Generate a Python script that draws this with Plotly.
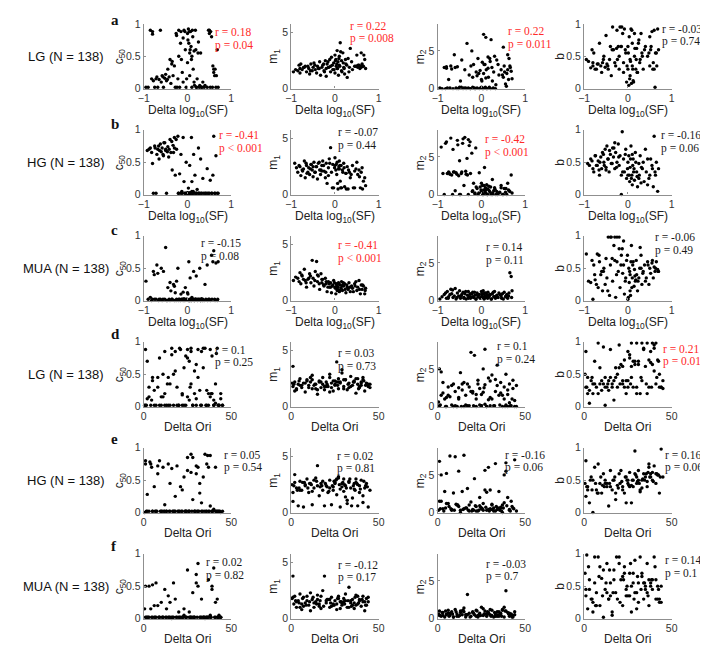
import plotly.graph_objects as go

# ---------------- data ----------------
# Row a: LG, Delta log10(SF)
x_a = [-0.95,-0.85,-0.82,-0.80,-0.80,-0.78,-0.75,-0.70,-0.65,-0.62,-0.60,-0.58,-0.55,-0.52,-0.50,-0.48,-0.45,-0.42,-0.40,-0.38,
       -0.35,-0.33,-0.30,-0.28,-0.25,-0.22,-0.20,-0.20,-0.18,-0.15,-0.12,-0.10,-0.10,-0.08,-0.05,-0.03,0.00,0.00,0.02,0.03,
       0.05,0.05,0.07,0.08,0.10,0.10,0.12,0.15,0.15,0.18,0.20,0.22,0.25,0.28,0.30,0.32,0.35,0.40,0.45,0.50,
       0.50,0.52,0.55,0.58,0.60,0.60,0.62,0.65,0.68,0.70,
       -0.9,-0.72,-0.68,-0.56,-0.46,-0.36,-0.26,-0.24,-0.16,-0.14,-0.06,-0.02,0.01,0.04,0.06,0.09,0.11,0.13,0.16,0.19,
       0.21,0.24,0.27,0.33,0.38,0.48,0.53,0.57,0.63,0.66]
c50_a = [0.02,0.9,0.15,0.88,0.84,0.12,0.02,0.18,0.14,0.9,0.1,0.2,0.02,0.16,0.22,0.12,0.3,0.18,0.45,0.08,
         0.42,0.2,0.35,0.02,0.82,0.15,0.9,0.5,0.02,0.88,0.25,0.78,0.1,0.9,0.6,0.02,0.85,0.4,0.92,0.7,
         0.55,0.2,0.88,0.65,0.5,0.02,0.8,0.58,0.1,0.9,0.02,0.15,0.72,0.05,0.55,0.02,0.1,0.05,0.02,0.9,
         0.85,0.02,0.8,0.35,0.3,0.25,0.2,0.02,0.6,0.02,
         0.02,0.15,0.02,0.18,0.14,0.38,0.85,0.02,0.7,0.45,0.88,0.15,0.75,0.88,0.6,0.45,0.9,0.3,0.05,0.6,
         0.02,0.55,0.02,0.02,0.02,0.9,0.88,0.02,0.3,0.2]
m1_a = [1.5,1.6,2.1,1.8,1.4,2.2,1.7,1.9,1.5,2.0,1.8,1.3,2.2,1.6,1.9,2.3,1.7,1.4,2.0,1.8,
        2.4,1.2,1.9,2.1,1.6,2.5,1.8,1.1,2.2,1.9,2.6,1.5,2.0,2.8,1.7,2.3,3.0,1.4,2.6,2.0,
        3.4,1.8,2.4,1.2,2.9,2.1,4.1,1.6,2.5,3.2,1.9,1.3,2.2,1.0,2.7,1.5,3.6,1.7,2.0,2.0,
        3.0,1.9,2.1,2.0,3.2,1.9,2.2,2.0,2.6,1.8,
        1.7,1.9,2.0,1.6,2.1,1.8,2.2,1.5,2.4,1.9,2.1,1.7,2.5,2.2,1.8,2.7,2.0,3.3,1.5,2.3,
        1.8,2.6,2.1,1.9,2.4,2.0,2.1,1.8,2.0,3.0]
m2_a = [0.1,2.8,0.0,2.9,2.7,0.1,1.2,3.0,0.0,4.5,2.8,0.1,2.9,0.0,0.2,1.0,3.8,0.0,0.1,2.5,
        0.0,6.0,0.1,1.8,0.0,5.0,0.2,1.5,3.2,0.0,2.2,0.1,1.7,4.0,0.0,2.4,0.2,1.2,3.5,0.0,
        7.2,2.0,0.1,3.2,6.8,1.4,0.0,2.7,4.2,0.2,3.6,6.5,1.0,2.2,4.3,0.0,3.8,1.8,2.5,5.5,
        1.5,3.0,0.6,2.0,4.5,2.5,1.2,3.0,2.3,1.3,
        0.0,0.1,2.6,0.0,0.2,0.1,0.0,3.0,0.1,0.0,2.0,0.1,1.0,0.0,3.2,0.2,2.5,0.0,1.5,4.0,
        0.0,2.8,0.1,0.5,3.2,1.8,2.2,0.3,4.0,2.8]
b_a = [0.45,0.32,0.6,0.35,0.4,0.55,0.3,0.38,0.7,0.35,0.25,0.4,0.5,0.33,0.82,0.38,0.3,0.45,0.65,0.2,
       0.95,0.6,0.4,0.35,0.9,0.65,0.5,0.3,0.95,0.65,0.85,0.25,0.4,0.92,0.55,0.1,0.3,0.65,0.05,0.8,
       0.2,0.45,0.92,0.08,0.35,0.7,0.12,0.5,0.85,0.3,0.62,0.25,0.75,0.45,0.85,0.55,0.3,0.65,0.5,0.8,
       0.35,0.6,0.88,0.4,0.9,0.3,0.02,0.55,0.92,0.6,
       0.42,0.3,0.38,0.45,0.35,0.6,0.62,0.45,0.65,0.95,0.6,0.35,0.55,0.15,0.42,0.9,0.3,0.1,0.62,0.45,
       0.25,0.7,0.4,0.5,0.6,0.55,0.65,0.3,0.55,0.35]

# Row b: HG, Delta log10(SF)
x_b = [-0.92,-0.85,-0.8,-0.78,-0.75,-0.7,-0.68,-0.65,-0.62,-0.6,-0.58,-0.55,-0.52,-0.5,-0.48,-0.45,-0.43,-0.4,-0.38,-0.35,
       -0.33,-0.3,-0.28,-0.25,-0.22,-0.2,-0.18,-0.15,-0.13,-0.1,-0.08,-0.05,-0.03,0.0,0.02,0.04,0.05,0.07,0.09,0.1,
       0.12,0.14,0.15,0.17,0.2,0.22,0.25,0.28,0.3,0.33,0.35,0.4,0.45,0.5,0.52,0.55,0.58,0.6,0.62,0.65,
       0.68,0.7,-0.72,-0.5,-0.3,-0.15,0.0,0.1,0.25,0.45,
       -0.88,-0.82,-0.74,-0.66,-0.64,-0.56,-0.54,-0.46,-0.42,-0.36,-0.32,-0.26,-0.21,-0.12,-0.06,-0.01,0.03,0.06,0.08,0.11,
       0.13,0.18,0.21,0.26,0.31,0.37,0.42,0.48,0.56,0.63]
c50_b = [0.68,0.72,0.48,0.02,0.75,0.62,0.7,0.55,0.78,0.66,0.72,0.6,0.8,0.68,0.02,0.74,0.58,0.85,0.65,0.38,
         0.76,0.88,0.3,0.7,0.9,0.02,0.32,0.62,0.05,0.88,0.2,0.02,0.5,0.03,0.1,0.02,0.45,0.02,0.88,0.05,
         0.02,0.62,0.02,0.3,0.02,0.08,0.72,0.02,0.55,0.02,0.25,0.02,0.4,0.02,0.22,0.02,0.3,0.9,0.02,0.6,
         0.02,0.02,0.02,0.7,0.72,0.02,0.02,0.2,0.02,0.02,
         0.7,0.65,0.72,0.75,0.68,0.62,0.8,0.66,0.7,0.82,0.65,0.85,0.02,0.02,0.02,0.02,0.02,0.03,0.02,0.02,
         0.05,0.02,0.02,0.02,0.02,0.02,0.02,0.02,0.02,0.02]
m1_b = [2.8,2.0,2.5,1.7,2.2,3.0,1.5,2.6,2.0,2.4,1.8,2.7,2.2,1.6,2.9,2.0,2.5,1.4,2.8,2.2,
        1.8,2.6,3.0,2.1,1.5,2.8,1.0,2.4,3.2,4.2,2.0,2.7,0.6,3.3,2.2,1.8,2.9,0.5,2.5,3.0,
        1.2,2.6,0.6,2.2,2.8,0.7,1.9,2.5,0.5,2.0,1.5,2.6,0.6,2.9,1.8,2.2,0.6,2.0,2.4,1.2,
        1.5,0.8,2.3,2.5,2.1,1.7,2.6,2.3,1.9,2.1,
        2.4,2.6,2.1,2.8,1.9,2.3,2.7,2.0,2.5,2.9,2.2,2.6,2.0,2.8,0.6,2.4,2.7,1.0,2.3,2.6,
        0.6,2.0,2.4,0.5,2.2,1.8,0.6,2.3,1.6,0.5]
m2_b = [6.3,0.0,7.0,2.8,3.0,7.5,2.6,6.0,3.0,0.5,2.9,7.2,2.5,4.5,0.0,3.0,6.8,1.2,7.6,2.7,
        4.8,0.0,6.5,2.8,5.5,0.5,1.5,0.2,6.2,0.8,0.0,2.9,1.0,0.3,1.2,0.0,0.6,3.6,0.9,0.2,
        1.3,0.0,0.7,1.1,0.3,0.0,2.0,0.5,0.9,0.0,0.4,0.2,1.2,0.0,0.8,0.3,0.0,1.5,0.6,0.4,
        2.6,0.2,2.7,0.0,7.3,0.1,1.5,0.6,0.0,0.9,
        2.8,6.8,2.9,0.0,3.0,2.7,6.6,2.8,7.4,3.1,2.6,7.0,0.4,1.0,0.2,0.6,0.0,1.2,0.3,0.8,
        0.0,0.5,1.0,0.2,0.7,0.0,0.3,0.0,0.8,0.5]
b_b = [0.48,0.55,0.4,0.35,0.6,0.45,0.52,0.3,0.58,0.4,0.65,0.5,0.7,0.42,0.75,0.55,0.35,0.62,0.48,0.72,
       0.58,0.4,0.65,0.5,0.78,0.45,0.6,0.3,0.97,0.55,0.35,0.7,0.25,0.5,0.6,0.2,0.42,0.75,0.3,0.15,
       0.55,0.4,0.22,0.65,0.35,0.12,0.48,0.6,0.18,0.4,0.5,0.7,0.15,0.3,0.55,0.45,0.12,0.9,0.35,0.5,
       0.05,0.4,0.45,0.38,0.8,0.0,0.3,0.62,0.25,0.55,
       0.45,0.52,0.6,0.38,0.5,0.62,0.45,0.55,0.68,0.48,0.72,0.42,0.58,0.35,0.62,0.4,0.3,0.55,0.25,0.45,
       0.35,0.5,0.28,0.3,0.42,0.2,0.35,0.25,0.4,0.3]

# Row c: MUA, Delta log10(SF)
x_c = [-0.95,-0.85,-0.8,-0.78,-0.75,-0.7,-0.68,-0.65,-0.6,-0.58,-0.55,-0.52,-0.5,-0.48,-0.45,-0.42,-0.4,-0.38,-0.35,-0.32,
       -0.3,-0.28,-0.25,-0.22,-0.2,-0.18,-0.15,-0.12,-0.1,-0.08,-0.05,-0.03,0.0,0.02,0.03,0.05,0.06,0.08,0.1,0.12,
       0.14,0.15,0.17,0.2,0.22,0.25,0.28,0.3,0.32,0.35,0.38,0.4,0.45,0.5,0.52,0.55,0.58,0.6,0.62,0.65,
       0.68,0.7,-0.62,-0.4,-0.25,-0.1,0.05,0.18,0.3,0.48,
       -0.9,-0.82,-0.76,-0.72,-0.66,-0.56,-0.46,-0.36,-0.3,-0.26,-0.2,-0.16,-0.13,-0.06,-0.01,0.01,0.04,0.07,0.09,0.11,
       0.16,0.19,0.23,0.27,0.34,0.42,0.46,0.56,0.63,0.69]
c50_c = [0.3,0.05,0.02,0.45,0.02,0.55,0.42,0.02,0.5,0.0,0.45,0.02,0.82,0.0,0.2,0.02,0.28,0.15,0.02,0.25,
         0.0,0.12,0.02,0.5,0.0,0.02,0.1,0.02,0.0,0.03,0.2,0.02,0.12,0.0,0.6,0.02,0.35,0.0,0.05,0.02,
         0.45,0.0,0.02,0.38,0.02,0.02,0.5,0.0,0.03,0.02,0.0,0.25,0.55,0.02,0.0,0.7,0.6,0.77,0.02,0.58,
         0.0,0.6,0.02,0.0,0.3,0.13,0.0,0.02,0.0,0.02,
         0.02,0.0,0.4,0.02,0.0,0.02,0.0,0.02,0.22,0.0,0.02,0.0,0.02,0.0,0.02,0.1,0.0,0.02,0.0,0.02,
         0.0,0.02,0.0,0.02,0.0,0.02,0.0,0.02,0.0,0.02]
m1_c = [1.8,2.0,2.5,1.5,2.2,2.8,1.8,1.2,2.0,2.4,1.6,3.6,2.0,1.3,2.6,3.5,1.7,2.2,1.0,2.4,
        1.6,1.9,1.3,2.0,1.5,0.8,1.7,1.2,1.6,0.7,1.4,1.8,1.2,0.6,1.5,1.3,1.0,1.6,0.8,1.4,
        1.1,1.7,0.9,1.3,1.5,0.7,1.2,1.0,1.6,0.8,1.3,1.1,1.5,0.9,1.2,1.8,0.6,1.4,1.0,1.3,
        0.6,1.1,1.9,2.3,1.4,1.2,0.9,1.4,1.1,1.7,
        2.1,1.7,2.3,1.9,1.6,2.2,1.8,1.5,1.9,1.4,1.7,1.2,1.5,1.3,1.6,1.1,1.4,1.2,1.5,0.9,
        1.3,1.6,1.0,1.4,1.2,0.8,1.3,1.0,1.4,0.9]
m2_c = [0.2,0.8,0.3,1.2,0.5,1.5,0.9,0.4,1.6,0.2,1.0,0.6,1.3,0.3,0.8,1.1,0.4,0.9,0.2,0.7,
        1.2,0.5,0.3,0.9,1.1,0.4,0.7,0.2,1.0,0.5,0.8,0.3,1.2,0.6,0.4,0.9,0.2,1.0,0.5,0.7,
        0.3,1.1,0.6,0.8,0.2,0.9,0.5,1.2,0.3,0.7,0.4,1.0,0.6,0.2,1.1,0.5,0.8,0.3,0.6,3.7,
        3.2,1.3,0.6,0.3,0.5,0.8,0.4,0.7,0.5,0.9,
        0.5,1.0,0.3,0.8,1.4,0.4,0.6,1.2,0.3,0.9,0.5,1.1,0.2,0.7,0.4,0.9,1.3,0.3,0.6,1.0,
        0.4,0.7,0.2,1.1,0.5,0.8,0.3,0.6,1.0,0.4]
b_c = [0.72,0.28,0.02,0.55,0.32,0.72,0.2,0.6,0.45,0.15,0.5,0.25,0.65,0.35,0.98,0.08,0.55,0.98,0.3,0.85,
       0.62,0.05,0.98,0.45,0.8,0.2,0.7,0.42,0.55,0.1,0.35,0.62,0.02,0.5,0.28,0.4,0.08,0.85,0.35,0.6,
       0.22,0.48,0.3,0.4,0.15,0.35,0.82,0.5,0.25,0.45,0.55,0.3,0.6,0.5,0.42,0.58,0.35,0.52,0.45,0.6,
       0.48,0.45,0.4,0.98,0.6,0.92,0.15,0.32,0.7,0.25,
       0.3,0.62,0.4,0.25,0.7,0.45,0.15,0.65,0.98,0.4,0.98,0.55,0.8,0.3,0.7,0.05,0.45,0.6,0.2,0.55,
       0.38,0.62,0.3,0.5,0.42,0.35,0.55,0.62,0.5,0.45]

# Row d: LG, Delta Ori
x_d = [1,1,2,3,4,5,6,7,8,9,10,11,12,12,13,14,15,16,17,18,
       18,19,20,21,22,23,24,24,25,26,27,27,28,29,30,31,32,33,34,35,
       36,37,38,38,39,40,40,41,42,43,44,45,2,5,9,14,17,20,25,29,
       33,36,41,0.5,11,22,30,39,43,26,
       1.5,3,4.5,6,8,10,12,13.5,15,16,19,20.5,22,23,25,26.5,28,30,31,32.5,
       34,35.5,37,38.5,40,41.5,42.5,44,45,27]
c50_d = [0.88,0.02,0.7,0.15,0.02,0.45,0.25,0.02,0.3,0.75,0.02,0.5,0.2,0.85,0.02,0.45,0.35,0.9,0.02,0.55,
         0.85,0.3,0.02,0.88,0.2,0.6,0.78,0.02,0.15,0.7,0.9,0.35,0.02,0.55,0.12,0.88,0.25,0.02,0.6,0.9,
         0.02,0.2,0.88,0.15,0.78,0.02,0.1,0.35,0.9,0.02,0.2,0.02,0.12,0.4,0.02,0.02,0.5,0.02,0.75,0.2,
         0.85,0.25,0.05,0.02,0.15,0.02,0.65,0.2,0.02,0.1,
         0.02,0.3,0.1,0.02,0.45,0.15,0.02,0.35,0.02,0.8,0.02,0.9,0.18,0.02,0.88,0.3,0.02,0.02,0.45,0.02,
         0.9,0.02,0.02,0.2,0.02,0.82,0.02,0.12,0.02,0.85]
m1_d = [3.6,1.8,2.2,1.5,2.0,2.5,1.7,2.1,1.3,2.4,1.9,2.2,1.6,2.8,1.9,2.0,1.1,2.3,1.7,2.6,
        2.0,1.5,2.2,1.8,2.9,2.1,1.4,2.3,1.9,4.0,2.5,1.6,2.2,3.0,1.8,2.4,1.5,2.1,2.7,1.9,
        2.3,1.2,2.0,2.5,1.7,2.2,1.9,2.6,1.4,2.1,1.8,2.0,1.4,1.9,2.3,1.6,2.2,1.8,2.0,3.3,
        1.7,2.2,2.4,2.1,2.6,1.3,2.4,1.8,2.0,2.2,
        2.0,1.6,2.3,1.9,2.1,1.7,2.4,2.0,1.5,2.2,1.8,2.0,2.6,1.7,2.3,1.9,2.1,1.6,2.4,2.0,
        1.8,2.2,2.5,1.6,2.1,2.3,1.9,2.0,1.7,2.2]
m2_d = [5.0,0.1,1.5,3.2,1.0,0.0,2.6,1.3,0.2,3.0,2.0,0.0,2.5,1.0,4.5,2.2,0.0,1.5,3.0,2.6,
        0.1,7.2,1.8,6.8,0.0,3.5,2.4,0.2,1.6,5.0,7.6,2.9,0.0,3.8,1.2,4.2,0.1,2.0,5.5,1.5,
        3.2,0.0,2.6,1.0,4.3,0.0,1.6,3.0,0.1,2.4,0.8,0.0,4.6,1.2,0.0,3.0,0.1,2.0,0.1,0.9,
        3.6,1.8,0.5,0.6,0.0,1.0,0.1,0.2,3.5,1.9,
        0.2,1.8,0.0,1.5,2.8,0.1,1.2,0.0,3.2,0.2,2.0,0.1,1.6,3.0,0.1,2.5,0.0,3.4,1.0,0.1,
        2.8,0.2,1.5,0.0,2.2,0.1,1.0,0.0,2.8,0.3]
b_d = [0.3,0.85,0.2,0.05,0.4,0.2,0.7,0.3,0.98,0.35,0.25,0.92,0.45,0.02,0.3,0.4,0.88,0.35,0.1,0.6,
       0.45,0.3,0.95,0.65,0.35,0.72,0.4,0.2,0.85,0.75,0.98,0.45,0.3,0.65,0.98,0.7,0.2,0.4,0.88,0.62,
       0.98,0.3,0.85,0.68,0.98,0.55,0.9,0.35,0.72,0.5,0.3,0.4,0.45,0.35,0.6,0.25,0.4,0.6,0.3,0.7,
       0.98,0.2,0.98,0.5,0.35,0.4,0.2,0.65,0.3,0.8,
       0.3,0.25,0.45,0.35,0.2,0.4,0.3,0.35,0.45,0.3,0.5,0.35,0.62,0.3,0.4,0.35,0.7,0.3,0.65,0.45,
       0.9,0.35,0.72,0.3,0.95,0.45,0.7,0.3,0.28,0.62]

# Row e: HG, Delta Ori
x_e = [0.5,1,2,3,4,5,6,7,8,9,10,11,12,13,14,15,16,17,18,19,
       20,21,22,23,24,25,26,27,28,28,29,30,30,31,32,33,34,35,36,37,
       38,38,39,40,41,42,43,44,45,2,5,8,12,15,18,22,25,27,29,31,
       33,36,39,1,13,24,26,32,37,41,
       1.5,3.5,6.5,9.5,11.5,14.5,16.5,19.5,21.5,23.5,25.5,27.5,29.5,31.5,33.5,35.5,37.5,39.5,41.5,43.5,
       4.5,10.5,17.5,24.5,30.5,36.5,42.5,7.5,20.5,34.5]
c50_e = [0.0,0.8,0.28,0.02,0.75,0.02,0.4,0.02,0.72,0.8,0.02,0.7,0.12,0.02,0.75,0.02,0.68,0.02,0.25,0.72,
         0.02,0.4,0.02,0.55,0.02,0.65,0.02,0.9,0.2,0.85,0.02,0.72,0.6,0.02,0.3,0.02,0.55,0.9,0.02,0.7,
         0.1,0.88,0.02,0.05,0.7,0.02,0.02,0.0,0.02,0.02,0.02,0.6,0.02,0.45,0.02,0.35,0.85,0.62,0.02,0.7,
         0.15,0.75,0.02,0.75,0.02,0.02,0.02,0.45,0.02,0.02,
         0.02,0.78,0.02,0.02,0.02,0.02,0.02,0.02,0.02,0.02,0.02,0.02,0.02,0.02,0.02,0.02,0.02,0.02,0.02,0.02,
         0.7,0.02,0.02,0.02,0.02,0.88,0.02,0.02,0.02,0.02]
m1_e = [2.5,1.0,2.7,2.2,0.6,2.8,2.0,0.5,2.4,3.0,1.8,2.6,0.7,2.2,3.1,4.2,1.5,2.6,2.0,0.6,
        2.4,1.8,2.9,0.7,2.3,2.7,1.6,3.2,2.1,0.5,2.6,3.0,1.9,2.4,0.8,2.8,2.2,1.3,2.6,3.0,
        0.6,2.5,1.8,2.9,0.9,2.2,2.6,0.5,2.0,3.4,2.0,2.5,1.9,2.4,2.8,2.2,2.6,3.1,2.3,1.4,
        2.7,2.1,2.4,1.8,2.9,2.0,3.0,1.1,2.7,1.5,
        2.4,2.0,2.7,2.2,2.5,2.8,2.3,2.6,1.9,2.4,2.9,2.5,2.7,2.2,3.0,2.4,2.6,2.1,2.8,2.3,
        2.2,2.6,2.4,2.8,2.5,2.0,2.4,2.7,2.3,0.6]
m2_e = [0.3,6.8,1.5,0.5,2.8,5.2,1.2,7.5,0.4,2.6,7.4,1.0,5.5,0.3,2.8,7.6,0.6,3.2,0.2,1.4,
        0.4,4.5,0.8,0.2,2.0,0.5,1.2,5.6,0.3,2.7,6.0,0.5,3.0,1.0,0.2,6.5,0.4,2.8,0.6,0.0,
        5.0,1.3,6.6,2.0,0.3,1.5,0.6,7.0,0.2,5.0,1.2,0.3,0.8,0.5,1.0,0.2,0.6,3.0,0.4,1.1,
        0.2,0.7,5.5,1.5,0.0,0.9,0.3,0.6,1.0,0.4,
        0.5,0.2,0.8,0.3,1.0,0.4,0.6,0.2,0.9,0.3,0.5,0.7,0.2,0.4,0.8,0.3,0.6,0.9,0.2,0.5,
        0.6,1.1,0.3,0.7,0.4,0.2,0.8,0.5,0.3,0.6]
b_e = [0.45,0.8,0.4,0.15,0.55,0.0,0.7,0.35,0.75,0.45,0.3,0.6,0.5,0.4,0.1,0.65,0.35,0.5,0.2,0.42,
       0.6,0.65,0.4,0.3,0.55,0.45,0.62,0.15,0.5,0.4,0.95,0.55,0.45,0.65,0.35,0.5,0.6,0.55,0.4,0.7,
       0.55,0.6,0.5,0.72,0.45,0.58,0.3,0.98,0.55,0.35,0.5,0.3,0.45,0.4,0.3,0.35,0.5,0.42,0.6,0.5,
       0.38,0.48,0.62,0.25,0.45,0.15,0.4,0.32,0.75,0.6,
       0.4,0.5,0.45,0.55,0.4,0.45,0.5,0.38,0.48,0.55,0.42,0.5,0.58,0.45,0.52,0.6,0.55,0.48,0.6,0.55,
       0.35,0.42,0.55,0.5,0.48,0.62,0.58,0.3,0.45,0.5]

# Row f: MUA, Delta Ori
x_f = [0.5,1,2,3,4,5,6,7,8,9,10,11,12,13,14,15,16,17,18,19,
       20,21,22,23,24,25,26,27,28,29,30,31,32,33,34,35,36,37,38,39,
       40,41,42,43,44,3,7,11,14,17,20,24,27,30,33,36,39,42,1.5,5,
       9,13,16,22,26,28,31,35,38,41,
       1,2.5,4.5,6.5,8.5,10.5,12.5,14.5,16.5,18.5,20.5,22.5,24.5,26.5,28.5,30.5,32.5,34.5,36.5,38.5,
       40.5,42.5,44,6,15,23,29,34,37,43]
c50_f = [0.15,0.5,0.02,0.5,0.15,0.52,0.02,0.55,0.2,0.02,0.25,0.02,0.45,0.15,0.02,0.25,0.0,0.55,0.3,0.02,
         0.1,0.02,0.02,0.15,0.02,0.75,0.1,0.02,0.4,0.02,0.55,0.85,0.02,0.3,0.02,0.0,0.02,0.6,0.02,0.45,
         0.78,0.02,0.3,0.05,0.02,0.02,0.02,0.02,0.35,0.02,0.02,0.02,0.02,0.68,0.02,0.02,0.5,0.02,0.02,0.02,
         0.02,0.02,0.02,0.02,0.02,0.02,0.5,0.02,0.05,0.25,
         0.02,0.02,0.02,0.02,0.02,0.02,0.02,0.02,0.02,0.02,0.02,0.02,0.02,0.02,0.02,0.02,0.02,0.02,0.02,0.02,
         0.02,0.02,0.02,0.2,0.02,0.05,0.02,0.02,0.02,0.02]
m1_f = [1.8,3.8,2.0,1.0,1.6,2.2,0.8,1.9,1.4,2.0,1.2,0.7,1.7,1.0,1.5,2.1,1.3,0.9,2.5,3.8,
        1.4,1.7,1.0,1.9,1.3,1.6,0.8,2.0,1.5,1.2,1.8,2.2,1.0,2.8,1.4,1.7,0.9,2.1,1.3,1.6,
        1.1,2.0,1.5,1.2,1.9,1.5,1.1,2.3,1.4,2.0,1.6,1.2,1.8,1.5,1.0,1.4,1.7,0.7,1.3,1.0,
        1.6,1.4,1.1,1.7,1.3,0.9,1.6,1.2,2.0,1.5,
        1.9,1.6,1.4,1.8,1.2,1.5,1.9,1.3,1.6,1.1,1.7,1.4,1.2,1.8,1.5,1.3,1.6,1.1,1.9,1.4,
        1.7,1.2,1.5,1.3,1.7,1.1,1.4,1.6,1.2,1.8]
m2_f = [0.6,1.0,0.3,0.8,0.2,0.5,1.1,0.4,0.9,0.2,1.2,0.6,0.3,1.0,0.5,1.4,0.2,3.2,0.7,0.3,
        0.9,0.5,1.1,0.2,0.7,1.5,0.4,1.0,0.3,0.8,0.5,1.1,0.2,0.6,0.9,0.3,0.5,1.2,1.5,3.7,
        0.8,0.3,0.6,0.2,0.9,0.4,0.7,0.3,1.0,0.5,0.8,0.4,0.6,1.2,0.3,0.7,1.0,0.5,0.4,0.6,
        0.2,0.8,0.5,0.3,1.3,0.6,0.4,0.9,0.2,0.7,
        0.4,0.8,1.0,0.3,0.6,0.9,0.4,1.1,0.5,0.2,0.7,1.0,0.4,0.6,0.9,0.3,0.8,0.5,0.3,1.0,
        0.6,0.2,0.5,0.7,0.9,0.4,0.6,0.3,1.1,0.4]
b_f = [0.7,0.35,0.15,0.6,0.3,0.1,0.55,0.4,0.95,0.2,0.62,0.02,0.45,0.85,0.3,0.55,0.1,0.75,0.4,0.3,
       0.95,0.6,0.2,0.8,0.45,0.35,0.7,0.1,0.55,0.9,0.4,0.25,0.95,0.65,0.3,0.5,0.85,0.2,0.55,0.45,
       0.95,0.6,0.3,0.25,0.5,0.45,0.2,0.75,0.3,0.6,0.85,0.35,0.5,0.15,0.7,0.4,0.6,0.5,0.98,0.25,
       0.8,0.4,0.05,0.65,0.35,0.7,0.55,0.45,0.5,0.3,
       0.45,0.8,0.3,0.2,0.65,0.35,0.55,0.75,0.4,0.95,0.25,0.6,0.5,0.85,0.3,0.65,0.45,0.55,0.35,0.6,
       0.8,0.45,0.25,0.95,0.35,0.7,0.4,0.55,0.6,0.3]

row_labels = ["LG (N = 138)", "HG (N = 138)", "MUA (N = 138)", "LG (N = 138)", "HG (N = 138)", "MUA (N = 138)"]
panel_letters = ["a", "b", "c", "d", "e", "f"]
y_titles = ["c<sub>50</sub>", "m<sub>1</sub>", "m<sub>2</sub>", "b"]
x_title_sf = "Delta log<sub>10</sub>(SF)"
x_title_ori = "Delta Ori"

r_text = [["r = 0.18", "r = 0.22", "r = 0.22", "r = -0.03"],
          ["r = -0.41", "r = -0.07", "r = -0.42", "r = -0.16"],
          ["r = -0.15", "r = -0.41", "r = 0.14", "r = -0.06"],
          ["r = 0.1", "r = 0.03", "r = 0.1", "r = 0.21"],
          ["r = 0.05", "r = 0.02", "r = -0.16", "r = 0.16"],
          ["r = 0.02", "r = -0.12", "r = -0.03", "r = 0.14"]]
p_text = [["p = 0.04", "p = 0.008", "p = 0.011", "p = 0.74"],
          ["p < 0.001", "p = 0.44", "p < 0.001", "p = 0.06"],
          ["p = 0.08", "p < 0.001", "p = 0.11", "p = 0.49"],
          ["p = 0.25", "p = 0.73", "p = 0.24", "p = 0.013"],
          ["p = 0.54", "p = 0.81", "p = 0.06", "p = 0.06"],
          ["p = 0.82", "p = 0.17", "p = 0.7", "p = 0.1"]]
significant = [[True, True, True, False],
               [True, False, True, False],
               [False, True, False, False],
               [False, False, False, True],
               [False, False, False, False],
               [False, False, False, False]]

xs = [x_a, x_b, x_c, x_d, x_e, x_f]
ys = [[c50_a, m1_a, m2_a, b_a], [c50_b, m1_b, m2_b, b_b], [c50_c, m1_c, m2_c, b_c],
      [c50_d, m1_d, m2_d, b_d], [c50_e, m1_e, m2_e, b_e], [c50_f, m1_f, m2_f, b_f]]

# ---------------- layout geometry (pixels) ----------------
W, H = 708, 645
col_left = [132, 282, 431, 580]
panel_w = 89
row_top = [10, 118, 226, 334, 442, 550]
panel_h = 66
ytitle_gap = [24, 17, 17, 24]
xtitle_gap = [23, 23, 23, 21, 21, 21]
# r/p text positions (left x, y of r line, y of p line)
stat_pos = [[(202, 18, 32), (340, 12, 25), (500, 17, 31), (657, 15, 28)],
            [(207, 123, 137), (328, 120, 134), (477, 127, 141), (656, 123, 137)],
            [(188, 233, 247), (328, 235, 249), (478, 237, 251), (650, 227, 241)],
            [(202, 342, 355), (328, 345, 359), (489, 338, 352), (658, 341, 354)],
            [(212, 449, 462), (327, 450, 463), (497, 449, 462), (660, 449, 462)],
            [(193, 558, 572), (328, 561, 574), (478, 560, 573), (660, 556, 570)]]
letter_y = [6, 112, 220, 326, 433, 542]

def px(x):
    return x / W

def py(y):
    return 1 - y / H

SANS = "Liberation Sans, Arial, sans-serif"
SERIF = "Liberation Serif, Times New Roman, serif"
AXIS_COLOR = "#8f8f8f"

fig = go.Figure()
annotations = []
layout_axes = {}

for r in range(6):
    is_sf = r < 3
    for c in range(4):
        k = r * 4 + c + 1
        xn = "x" if k == 1 else f"x{k}"
        yn = "y" if k == 1 else f"y{k}"
        fig.add_trace(go.Scatter(
            x=xs[r], y=ys[r][c], mode="markers", xaxis=xn, yaxis=yn,
            marker=dict(color="black", size=3.4), cliponaxis=False,
            showlegend=False, hoverinfo="x+y"))
        L = col_left[c]
        T = row_top[r]
        if is_sf:
            xr, xt = [-1, 1], [-1, 0, 1]
        else:
            xr, xt = [0, 50], [0, 50]
        if c in (0, 3):
            yr, yt, ytt = [0, 1], [0, 0.5, 1], ["0", "0.5", "1"]
        elif c == 1:
            yr, yt, ytt = [0, 5.8], [0, 5], ["0", "5"]
        else:
            yr, yt, ytt = [0, 8.6], [0, 5], ["0", "5"]
        common = dict(showline=True, linecolor=AXIS_COLOR, linewidth=1.3, mirror=False,
                      showgrid=False, zeroline=False, ticks="inside", ticklen=2,
                      tickcolor=AXIS_COLOR, tickfont=dict(family=SANS, size=10.5, color="#333333"))
        layout_axes["xaxis" if k == 1 else f"xaxis{k}"] = dict(
            domain=[px(L), px(L + panel_w)], anchor=yn, range=xr, tickvals=xt, **common)
        layout_axes["yaxis" if k == 1 else f"yaxis{k}"] = dict(
            domain=[py(T + panel_h), py(T)], anchor=xn, range=yr, tickvals=yt, ticktext=ytt, **common)
        # axis titles
        annotations.append(dict(
            x=px(L + panel_w / 2), y=py(T + panel_h + xtitle_gap[r]), xref="paper", yref="paper",
            text=x_title_sf if is_sf else x_title_ori, showarrow=False,
            xanchor="center", yanchor="middle", font=dict(family=SANS, size=12, color="#222222")))
        annotations.append(dict(
            x=px(L - ytitle_gap[c]), y=py(T + panel_h / 2), xref="paper", yref="paper",
            text=y_titles[c], showarrow=False, textangle=-90,
            xanchor="center", yanchor="middle", font=dict(family=SANS, size=12, color="#222222")))
        # statistics
        sx, sy_r, sy_p = stat_pos[r][c]
        col = "#ff2a2a" if significant[r][c] else "#1a1a1a"
        for txt, yy in ((r_text[r][c], sy_r), (p_text[r][c], sy_p)):
            annotations.append(dict(
                x=px(sx), y=py(yy), xref="paper", yref="paper", text=txt, showarrow=False,
                xanchor="left", yanchor="middle", font=dict(family=SERIF, size=11.5, color=col)))
    # row label and panel letter
    annotations.append(dict(
        x=px(53), y=py(row_top[r] + 33), xref="paper", yref="paper", text=row_labels[r],
        showarrow=False, xanchor="center", yanchor="middle", font=dict(family=SANS, size=13, color="#111111")))
    annotations.append(dict(
        x=px(97), y=py(letter_y[r]), xref="paper", yref="paper", text="<b>" + panel_letters[r] + "</b>",
        showarrow=False, xanchor="left", yanchor="middle", font=dict(family=SERIF, size=15, color="#111111")))

fig.update_layout(width=W, height=H, margin=dict(l=0, r=0, t=0, b=0),
                  paper_bgcolor="white", plot_bgcolor="white",
                  annotations=annotations, **layout_axes)

fig.write_html("out.html")
